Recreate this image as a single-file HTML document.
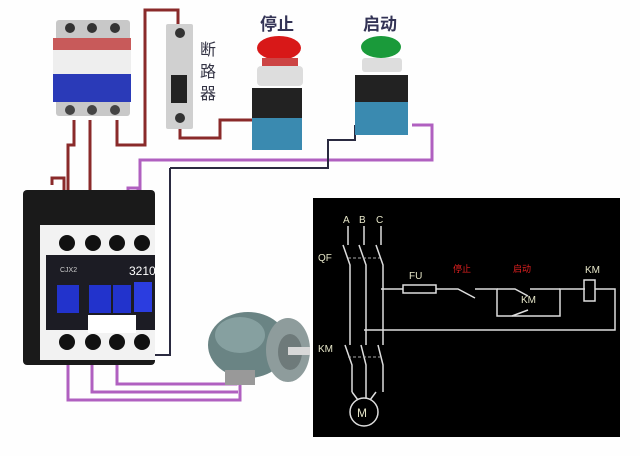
<!DOCTYPE html>
<html><head><meta charset="utf-8"><style>
body{margin:0;background:#fff;width:640px;height:456px;overflow:hidden}
svg{display:block}
text{font-family:"Liberation Sans","Noto Sans CJK SC",sans-serif}
</style></head><body>
<svg width="640" height="456" viewBox="0 0 640 456">
<rect width="640" height="456" fill="#fefefe"/>
<g fill="none" stroke="#8a2a2a" stroke-width="3">
<path d="M74 120 V145 H68 V245"/>
<path d="M90 120 V245"/>
<path d="M117 120 V145 H145 V10 H178 V28"/>
<path d="M180 125 V138 H220 V120 H255"/>
<path d="M52 185 V178 H64 V245"/>
</g>
<g fill="none" stroke="#b060c0" stroke-width="3">
<path d="M140 250 V160 H432 V125 H412"/>
<path d="M128 200 V188 H138 V200"/>
<path d="M68 350 V400 H240 V380"/>
<path d="M92 350 V392 H238"/>
<path d="M117 350 V384 H236 V378"/>
</g>
<g fill="none" stroke="#2a2a40" stroke-width="2">
<path d="M170 168 V355 H140"/>
<path d="M170 168 H328 V140 H355 V125"/>
</g>
<rect x="56" y="20" width="74" height="96" fill="#c8c8c8" rx="3"/>
<rect x="53" y="38" width="78" height="12" fill="#c85a5a"/>
<rect x="53" y="50" width="78" height="24" fill="#eeeeee"/>
<rect x="53" y="74" width="78" height="28" fill="#2a3ab8"/>
<circle cx="70" cy="28" r="5" fill="#333"/><circle cx="92" cy="28" r="5" fill="#333"/><circle cx="115" cy="28" r="5" fill="#333"/>
<circle cx="70" cy="110" r="5" fill="#444"/><circle cx="92" cy="110" r="5" fill="#444"/><circle cx="115" cy="110" r="5" fill="#444"/>
<rect x="166" y="24" width="27" height="105" fill="#d0d0d0" rx="2"/>
<circle cx="180" cy="33" r="5" fill="#333"/><circle cx="180" cy="118" r="5" fill="#333"/>
<rect x="171" y="75" width="16" height="28" fill="#222"/>
<text x="200" y="55" font-size="16" fill="#334">断</text>
<text x="200" y="77" font-size="16" fill="#334">路</text>
<text x="200" y="99" font-size="16" fill="#334">器</text>
<text x="260" y="30" font-size="17" fill="#335" font-weight="bold">停止</text>
<ellipse cx="279" cy="48" rx="22" ry="12" fill="#d81818"/>
<rect x="262" y="58" width="36" height="10" fill="#c44"/>
<rect x="257" y="66" width="46" height="20" fill="#ddd" rx="4"/>
<rect x="252" y="88" width="50" height="32" fill="#222"/>
<rect x="252" y="118" width="50" height="32" fill="#3a8ab0"/>
<text x="363" y="30" font-size="17" fill="#335" font-weight="bold">启动</text>
<ellipse cx="381" cy="47" rx="20" ry="11" fill="#1a9a3a"/>
<rect x="362" y="58" width="40" height="14" fill="#ddd" rx="3"/>
<rect x="355" y="75" width="53" height="30" fill="#222"/>
<rect x="355" y="102" width="53" height="33" fill="#3a8ab0"/>
<rect x="23" y="190" width="132" height="175" fill="#1a1a1a" rx="4"/>
<rect x="40" y="225" width="115" height="135" fill="#f2f2f2"/>
<rect x="46" y="255" width="109" height="75" fill="#1c1c24"/>
<rect x="57" y="285" width="22" height="28" fill="#2233cc"/>
<rect x="89" y="285" width="22" height="28" fill="#2233cc"/>
<rect x="113" y="285" width="18" height="28" fill="#2233cc"/>
<rect x="134" y="282" width="18" height="30" fill="#2b3de0"/>
<rect x="88" y="315" width="48" height="18" fill="#fff"/>
<text x="129" y="275" font-size="12" fill="#fff">3210</text>
<text x="60" y="272" font-size="7" fill="#ccc">CJX2</text>
<g fill="#111"><circle cx="67" cy="243" r="8"/><circle cx="93" cy="243" r="8"/><circle cx="117" cy="243" r="8"/><circle cx="142" cy="243" r="8"/>
<circle cx="67" cy="342" r="8"/><circle cx="93" cy="342" r="8"/><circle cx="117" cy="342" r="8"/><circle cx="142" cy="342" r="8"/></g>
<ellipse cx="248" cy="345" rx="40" ry="33" fill="#6a8484"/>
<ellipse cx="240" cy="335" rx="25" ry="18" fill="#86a0a0"/>
<ellipse cx="288" cy="350" rx="22" ry="32" fill="#8e9c9c"/>
<ellipse cx="290" cy="352" rx="12" ry="18" fill="#6e7a7a"/>
<rect x="288" y="347" width="22" height="8" fill="#d8d8d8"/>
<rect x="225" y="370" width="30" height="15" fill="#999"/>
<rect x="313" y="198" width="307" height="239" fill="#000"/>
<g stroke="#ddd" stroke-width="1.5" fill="none">
<path d="M348 226 V245 M364 226 V245 M381 226 V245"/>
<path d="M343 245 L350 265 V345 M359 245 L366 265 V345 M376 245 L383 265 V345"/>
<path d="M345 345 L352 365 V392 M361 345 L366 365 V398 M378 345 L383 365 V392"/>
<path d="M381 289 H403 M436 289 H458 L475 298 M475 289 H497 V316 H560 V289 H585 M595 289 H615 V330 H364"/>
<path d="M497 289 H515 L528 296 M530 289 H560"/>
<path d="M512 316 L528 310"/>
<rect x="403" y="285" width="33" height="8"/>
<rect x="584" y="280" width="11" height="21"/>
<circle cx="364" cy="412" r="14"/>
<path d="M352 392 L358 400 M376 392 L370 400"/>
</g>
<g stroke="#aaa" stroke-dasharray="3,2"><path d="M348 258 H380 M348 357 H380"/></g>
<g fill="#e6e6c8" font-size="10">
<text x="343" y="223">A</text><text x="359" y="223">B</text><text x="376" y="223">C</text>
<text x="318" y="261">QF</text><text x="318" y="352">KM</text>
<text x="409" y="279">FU</text><text x="585" y="273">KM</text><text x="521" y="303">KM</text>
<text x="357" y="417" font-size="12">M</text>
</g>
<text x="453" y="272" font-size="9" fill="#e02020">停止</text>
<text x="513" y="272" font-size="9" fill="#e02020">启动</text>
</svg>
</body></html>
